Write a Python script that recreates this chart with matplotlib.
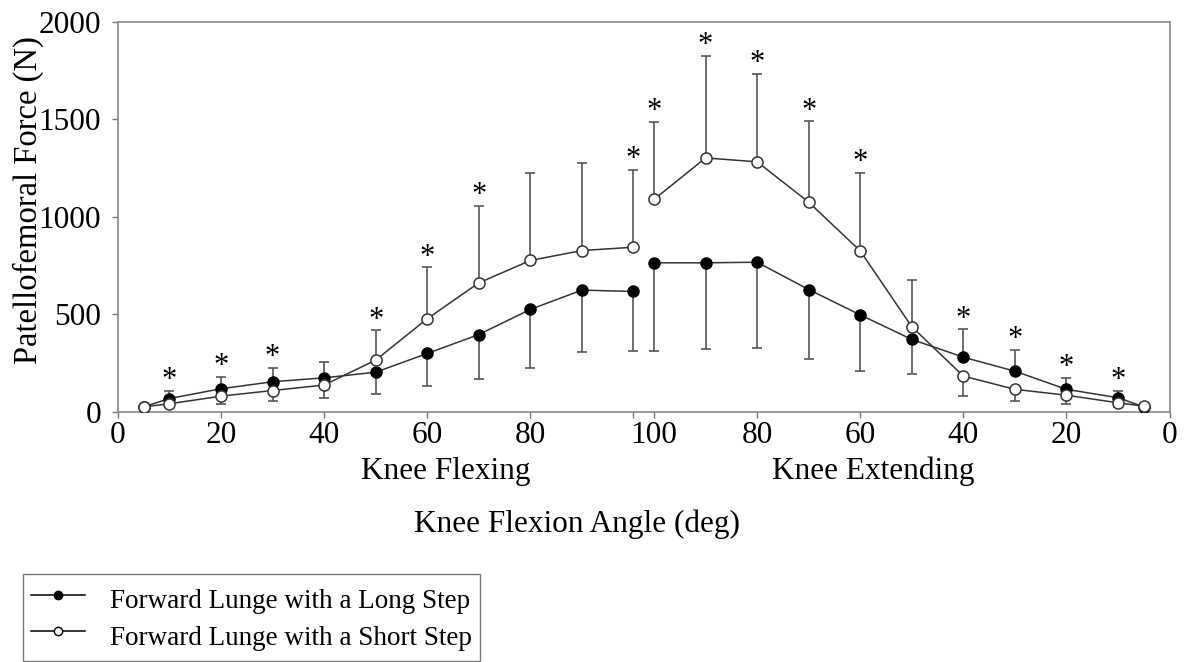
import numpy as np
import matplotlib
matplotlib.use("Agg")
import matplotlib.pyplot as plt
from matplotlib.lines import Line2D

plt.rcParams["font.family"] = ["Liberation Serif", "DejaVu Serif"]

# knee angles (deg) for the two phases
flex_angles = [5, 10, 20, 30, 40, 50, 60, 70, 80, 90, 100]
ext_angles = [100, 90, 80, 70, 60, 50, 40, 30, 20, 10, 5]

# mean patellofemoral force (N)
long_flex = [25, 68, 118, 154, 174, 203, 299, 396, 525, 624, 617]
short_flex = [25, 41, 80, 109, 137, 265, 477, 661, 776, 827, 844]
long_ext = [764, 764, 767, 627, 497, 371, 280, 208, 115, 72, 25]
short_ext = [1089, 1302, 1282, 1075, 825, 436, 183, 115, 85, 46, 29]

# standard deviations (N)
long_flex_sd = [0, 38, 60, 72, 82, 114, 167, 227, 299, 318, 306]
short_flex_sd = [0, 15, 39, 54, 65, 152, 263, 393, 449, 450, 398]
long_ext_sd = [453, 444, 442, 354, 289, 176, 142, 108, 58, 37, 0]
short_ext_sd = [396, 522, 451, 414, 400, 239, 103, 60, 47, 20, 0]

# angles with a significant difference between step lengths
flex_sig = [10, 20, 30, 50, 60, 70, 100]
ext_sig = [100, 90, 80, 70, 60, 40, 30, 20, 10]

gap = 4  # space between the flexing and extending halves


def ext_pos(a):
    return 100 + gap + (100 - np.asarray(a))


def one_sided(mean, other, sd):
    # bar points away from the other curve
    mean, other, sd = map(np.asarray, (mean, other, sd))
    up = np.where(mean >= other, sd, 0)
    down = np.where(mean < other, sd, 0)
    return np.vstack([down, up])


fig = plt.figure(figsize=(11.91, 6.62), dpi=100)
ax = fig.add_axes([0.099, 0.378, 0.883, 0.589])

line_c = "#333333"
bar_c = "#555555"

phases = [
    (np.asarray(flex_angles), long_flex, short_flex, long_flex_sd, short_flex_sd, flex_sig),
    (ext_pos(ext_angles), long_ext, short_ext, long_ext_sd, short_ext_sd, ext_sig),
]

for i, (x, lg, sh, lg_sd, sh_sd, sig) in enumerate(phases):
    lg_err = one_sided(lg, sh, lg_sd)
    sh_err = one_sided(sh, lg, sh_sd)
    ax.errorbar(x, lg, yerr=lg_err, fmt="none", ecolor=bar_c, elinewidth=1.2,
                capsize=3.5, capthick=1.2, zorder=1)
    ax.errorbar(x, sh, yerr=sh_err, fmt="none", ecolor=bar_c, elinewidth=1.2,
                capsize=3.5, capthick=1.2, zorder=1)
    ax.plot(x, lg, color=line_c, lw=1.1, marker="o", ms=8,
            mfc="black", mec="black", zorder=3)
    ax.plot(x, sh, color=line_c, lw=1.1, marker="o", ms=8,
            mfc="white", mec=line_c, mew=1.1, zorder=4)
    # significance stars above the highest bar
    angles = flex_angles if i == 0 else ext_angles
    tops = np.maximum(np.asarray(lg) + lg_err[1], np.asarray(sh) + sh_err[1])
    for a, xi, t in zip(angles, x, tops):
        if a in sig:
            ax.annotate("*", (xi, t), xytext=(0, -3), textcoords="offset points",
                        ha="center", va="bottom", fontsize=22)

ax.set_xlim(0, 204)
ax.set_ylim(0, 2000)
ax.set_yticks([0, 500, 1000, 1500, 2000])

xt = [0, 20, 40, 60, 80, 100] + list(ext_pos([100, 80, 60, 40, 20, 0]))
xl = ["0", "20", "40", "60", "80", "", "100", "80", "60", "40", "20", "0"]
ax.set_xticks(xt)
ax.set_xticklabels(xl)

ax.tick_params(axis="both", direction="out", length=4, width=1,
               color="#777777", labelsize=22.5)
ax.tick_params(axis="x", pad=3)
ax.tick_params(axis="y", pad=8)
for s in ax.spines.values():
    s.set_color("#888888")
    s.set_linewidth(1.2)

ax.set_ylabel("Patellofemoral Force (N)", fontsize=23.5)
ax.yaxis.set_label_coords(-0.07, 0.544)
ax.set_xlabel("Knee Flexion Angle (deg)", fontsize=22.5)
ax.xaxis.set_label_coords(0.437, -0.25)

ax.text(63.6, -0.115, "Knee Flexing", transform=ax.get_xaxis_transform(),
        ha="center", va="top", fontsize=22.5)
ax.text(146.6, -0.115, "Knee Extending", transform=ax.get_xaxis_transform(),
        ha="center", va="top", fontsize=22.5)

handles = [
    Line2D([], [], color="black", lw=1.1, marker="o", ms=6, mfc="black", mec="black"),
    Line2D([], [], color="black", lw=1.1, marker="o", ms=6, mfc="white", mec="black"),
]
leg = fig.legend(handles, ["Forward Lunge with a Long Step", "Forward Lunge with a Short Step"],
                 loc="upper left", bbox_to_anchor=(23 / 1191, 1 - 574 / 662),
                 bbox_transform=fig.transFigure, fontsize=19.5, frameon=True,
                 fancybox=False, borderaxespad=0, handlelength=2.0,
                 handleheight=1.6, handletextpad=0.9, borderpad=0.3,
                 labelspacing=0.05)
leg.get_frame().set_edgecolor("#555555")
leg.get_frame().set_linewidth(1.0)

fig.savefig("out.png", dpi=100)
